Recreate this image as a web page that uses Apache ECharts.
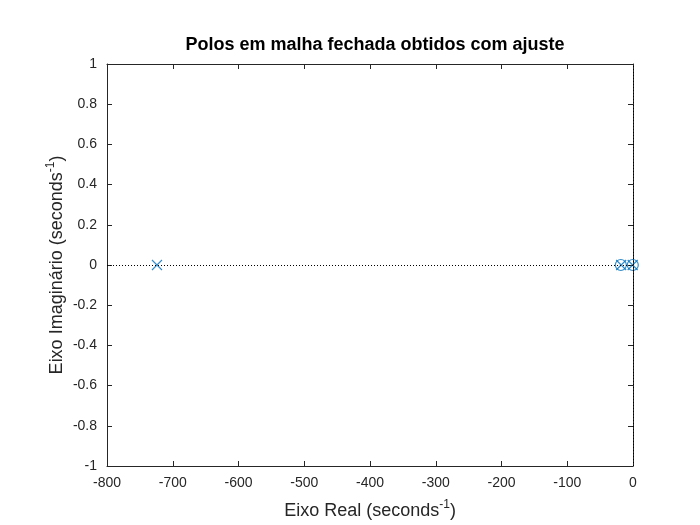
<!DOCTYPE html>
<html>
<head>
<meta charset="utf-8">
<script src="https://cdn.jsdelivr.net/npm/echarts@6/dist/echarts.min.js"></script>
<style>html,body{margin:0;padding:0;background:#fff}#c{width:700px;height:525px}</style>
</head>
<body>
<div id="c"></div>
<script>
var titleText = 'Polos em malha fechada obtidos com ajuste';
var xTicks = [-800, -700, -600, -500, -400, -300, -200, -100, 0];
var yTicks = [-1, -0.8, -0.6, -0.4, -0.2, 0, 0.2, 0.4, 0.6, 0.8, 1];
var poleReal = [-724, -18, -0.5];
var poleImag = [0, 0, 0];
var zeroReal = [-18.5, -0.3];
var zeroImag = [0, 0];

var axisColor = '#262626';
var fontFam = '"Liberation Sans", Arial, Helvetica, sans-serif';
var chart = echarts.init(document.getElementById('c'), null, {renderer: 'canvas'});

function pts(xs, ys) { return xs.map(function (v, i) { return [v, ys[i]]; }); }

var baseAxis = {
  axisLine: {show: true, onZero: false, lineStyle: {color: axisColor, width: 1}},
  axisTick: {show: true, inside: true, length: 5, lineStyle: {color: axisColor}},
  splitLine: {show: false}
};
var blue = '#0072BD';
var option = {
  animation: false,
  backgroundColor: '#fff',
  title: {
    text: titleText, left: 370, top: 31, textAlign: 'center',
    textStyle: {fontFamily: fontFam, fontSize: 18, fontWeight: 'bold', color: '#000'}
  },
  grid: {left: 107, right: 67, top: 64, bottom: 58},
  xAxis: [
    Object.assign({}, baseAxis, {
      type: 'value', position: 'bottom', min: xTicks[0], max: xTicks[xTicks.length - 1], interval: 100,
      axisLabel: {color: axisColor, fontFamily: fontFam, fontSize: 14, margin: 10},
      name: 'Eixo Real (seconds{sup|-1})', nameLocation: 'middle', nameGap: 33, nameMoveOverlap: false,
      nameTextStyle: {color: axisColor, fontFamily: fontFam, fontSize: 18,
        rich: {sup: {fontSize: 12, fontFamily: fontFam, color: axisColor, verticalAlign: 'top', padding: [0, 0, 12, 0]}}}
    }),
    Object.assign({}, baseAxis, {
      type: 'value', position: 'top', min: xTicks[0], max: xTicks[xTicks.length - 1], interval: 100,
      axisLabel: {show: false}
    })
  ],
  yAxis: [
    Object.assign({}, baseAxis, {
      type: 'value', position: 'left', min: yTicks[0], max: yTicks[yTicks.length - 1], interval: 0.2,
      axisLabel: {color: axisColor, fontFamily: fontFam, fontSize: 14, margin: 10,
        formatter: function (v) { return String(Math.round(v * 10) / 10); }},
      name: 'Eixo Imaginário (seconds{sup|-1})', nameLocation: 'middle', nameGap: 38, nameRotate: 90,
      nameMoveOverlap: false,
      nameTextStyle: {color: axisColor, fontFamily: fontFam, fontSize: 18,
        rich: {sup: {fontSize: 12, fontFamily: fontFam, color: axisColor, verticalAlign: 'top', padding: [0, 0, 12, 0]}}}
    }),
    Object.assign({}, baseAxis, {
      type: 'value', position: 'right', min: yTicks[0], max: yTicks[yTicks.length - 1], interval: 0.2,
      axisLabel: {show: false}
    })
  ],
  series: [
    {
      type: 'scatter', name: 'refs', data: [], xAxisIndex: 0, yAxisIndex: 0,
      markLine: {
        silent: true, symbol: 'none', label: {show: false},
        lineStyle: {color: '#000', type: [1, 2], width: 1},
        data: [{yAxis: 0}, {xAxis: 0}]
      }
    },
    {
      type: 'scatter', name: 'poles', data: pts(poleReal, poleImag),
      symbol: 'path://M0,0L10,10M10,0L0,10', symbolSize: 10,
      itemStyle: {color: 'none', borderColor: blue, borderWidth: 1.2}
    },
    {
      type: 'scatter', name: 'zeros', data: pts(zeroReal, zeroImag),
      symbol: 'circle', symbolSize: 11,
      itemStyle: {color: 'none', borderColor: blue, borderWidth: 1.2}
    }
  ]
};
chart.setOption(option);
</script>
</body>
</html>
